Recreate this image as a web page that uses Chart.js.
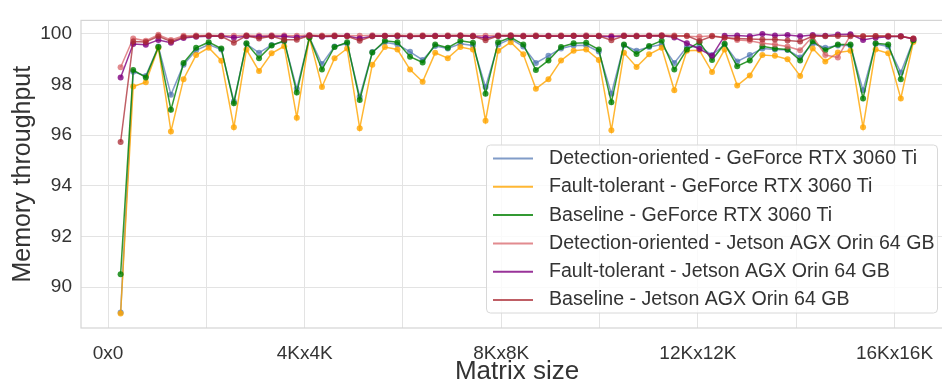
<!DOCTYPE html>
<html>
<head>
<meta charset="utf-8">
<script src="https://cdn.jsdelivr.net/npm/chart.js@4.4.1/dist/chart.umd.min.js"></script>
<style>
  html, body { margin: 0; padding: 0; background: #fff; overflow: hidden; }
  #wrap { position: absolute; left: 0; top: 0; width: 956px; height: 383px; }
</style>
</head>
<body>
<div id="wrap"><canvas id="chart" width="956" height="383"></canvas></div>
<script>
// matrix side length N (N x N)
const sizes = [256, 512, 768, 1024, 1280, 1536, 1792, 2048, 2304, 2560, 2816, 3072, 3328, 3584, 3840, 4096,
  4352, 4608, 4864, 5120, 5376, 5632, 5888, 6144, 6400, 6656, 6912, 7168, 7424, 7680, 7936, 8192,
  8448, 8704, 8960, 9216, 9472, 9728, 9984, 10240, 10496, 10752, 11008, 11264, 11520, 11776, 12032, 12288,
  12544, 12800, 13056, 13312, 13568, 13824, 14080, 14336, 14592, 14848, 15104, 15360, 15616, 15872, 16128, 16384];

const detectionGeforce = [89.00, 98.50, 98.34, 99.50, 97.60, 98.78, 99.35, 99.58, 99.38, 97.33, 99.60, 99.25, 99.56, 99.70, 97.83, 99.86,
  98.81, 99.50, 99.62, 97.52, 99.28, 99.67, 99.58, 99.29, 98.97, 99.52, 99.42, 99.61, 99.54, 97.90, 99.58, 99.80,
  99.50, 98.85, 99.13, 99.42, 99.54, 99.55, 99.30, 97.64, 99.55, 99.33, 99.48, 99.58, 98.85, 99.48, 99.50, 99.16,
  99.58, 98.91, 99.16, 99.42, 99.38, 99.36, 99.07, 99.62, 99.45, 99.54, 99.54, 97.77, 99.60, 99.50, 98.47, 99.75];

const faultGeforce = [88.96, 97.92, 98.09, 99.45, 96.15, 98.21, 99.16, 99.45, 98.94, 96.31, 99.38, 98.53, 99.23, 99.51, 96.69, 99.86,
  97.90, 99.04, 99.42, 96.27, 98.78, 99.48, 99.38, 98.59, 98.11, 99.25, 99.04, 99.48, 99.38, 96.57, 99.33, 99.67,
  99.19, 97.83, 98.21, 98.95, 99.33, 99.38, 98.97, 96.19, 99.25, 98.69, 99.19, 99.45, 97.77, 99.33, 99.35, 98.49,
  99.38, 97.96, 98.36, 99.16, 99.13, 99.00, 98.34, 99.42, 98.91, 99.26, 99.33, 96.31, 99.38, 99.23, 97.45, 99.68];

const baselineGeforce = [90.51, 98.57, 98.28, 99.48, 97.00, 98.85, 99.45, 99.67, 99.42, 97.26, 99.63, 99.04, 99.54, 99.73, 97.68, 99.86,
  98.59, 99.48, 99.67, 97.39, 99.26, 99.73, 99.67, 99.10, 98.87, 99.58, 99.45, 99.73, 99.65, 97.64, 99.67, 99.86,
  99.58, 98.57, 98.95, 99.48, 99.63, 99.65, 99.38, 97.30, 99.58, 99.20, 99.52, 99.73, 98.59, 99.38, 99.67, 98.97,
  99.61, 98.72, 98.95, 99.51, 99.42, 99.38, 98.95, 99.71, 99.35, 99.58, 99.58, 97.45, 99.63, 99.58, 98.21, 99.75];

const detectionJetson = [98.68, 99.82, 99.73, 99.96, 99.76, 99.92, 99.93, 99.94, 99.93, 99.92, 99.94, 99.93, 99.94, 99.93, 99.92, 99.95,
  99.93, 99.94, 99.93, 99.92, 99.94, 99.93, 99.94, 99.93, 99.94, 99.93, 99.94, 99.95, 99.93, 99.92, 99.94, 99.95,
  99.93, 99.94, 99.93, 99.94, 99.93, 99.94, 99.93, 99.92, 99.94, 99.93, 99.94, 99.95, 99.93, 99.90, 99.88, 99.92,
  99.86, 99.76, 99.73, 99.63, 99.58, 99.50, 99.35, 99.90, 99.16, 99.07, 99.95, 99.90, 99.91, 99.92, 99.90, 99.82];

const faultJetson = [98.28, 99.60, 99.57, 99.76, 99.65, 99.84, 99.88, 99.90, 99.91, 99.85, 99.90, 99.88, 99.90, 99.89, 99.86, 99.92,
  99.88, 99.90, 99.91, 99.82, 99.90, 99.91, 99.90, 99.89, 99.90, 99.91, 99.90, 99.92, 99.90, 99.84, 99.91, 99.92,
  99.90, 99.90, 99.91, 99.90, 99.91, 99.90, 99.90, 99.88, 99.91, 99.90, 99.91, 99.92, 99.86, 99.63, 99.40, 99.13,
  99.92, 99.93, 99.90, 99.99, 99.93, 99.95, 99.90, 99.95, 99.92, 99.97, 99.98, 99.76, 99.85, 99.88, 99.90, 99.80];

const baselineJetson = [95.73, 99.70, 99.68, 99.90, 99.70, 99.87, 99.90, 99.92, 99.90, 99.65, 99.92, 99.82, 99.90, 99.77, 99.77, 99.93,
  99.90, 99.91, 99.90, 99.73, 99.90, 99.91, 99.92, 99.90, 99.91, 99.90, 99.91, 99.92, 99.90, 99.75, 99.91, 99.92,
  99.90, 99.91, 99.90, 99.91, 99.92, 99.90, 99.91, 99.75, 99.91, 99.90, 99.91, 99.92, 99.90, 99.92, 99.72, 99.90,
  99.85, 99.82, 99.80, 99.78, 99.78, 99.74, 99.70, 99.90, 99.90, 99.91, 99.90, 99.90, 99.91, 99.90, 99.89, 99.82];

const seriesNames = [
  'Detection-oriented - GeForce RTX 3060 Ti',
  'Fault-tolerant - GeForce RTX 3060 Ti',
  'Baseline - GeForce RTX 3060 Ti',
  'Detection-oriented - Jetson AGX Orin 64 GB',
  'Fault-tolerant - Jetson AGX Orin 64 GB',
  'Baseline - Jetson AGX Orin 64 GB'
];
const seriesValues = [detectionGeforce, faultGeforce, baselineGeforce, detectionJetson, faultJetson, baselineJetson];
const seriesColors = [
  'rgba(76,114,176,0.7)',
  'rgba(255,165,0,0.8)',
  'rgba(0,128,0,0.8)',
  'rgba(214,90,96,0.7)',
  'rgba(128,0,128,0.8)',
  'rgba(170,40,50,0.75)'
];

const xGridValues = [0, 2000, 4000, 6000, 8000, 10000, 12000, 14000, 16000];
const xTickLabels = { 0: '0x0', 4000: '4Kx4K', 8000: '8Kx8K', 12000: '12Kx12K', 16000: '16Kx16K' };
const yTickValues = [90, 92, 94, 96, 98, 100];

const FONT = '"Liberation Sans", Arial, sans-serif';
const TEXT = '#333333';

const datasets = seriesValues.map((vals, k) => ({
  label: seriesNames[k],
  data: sizes.map((n, i) => ({ x: n, y: vals[i] })),
  borderColor: seriesColors[k],
  backgroundColor: seriesColors[k],
  borderWidth: 1.5,
  pointRadius: 3,
  pointHoverRadius: 3,
  pointBorderWidth: 0,
  tension: 0,
  order: 6 - k   // later series on top, like the original plot
}));

// frame round the plot area + legend box inside it
const framePlugin = {
  id: 'frame',
  beforeDatasetsDraw(chart) {
    const { ctx, chartArea: a } = chart;
    ctx.save();
    ctx.strokeStyle = '#d4d4d4';
    ctx.lineWidth = 1.2;
    ctx.strokeRect(a.left, a.top, a.right - a.left, a.bottom - a.top);
    ctx.restore();
  },
  afterDraw(chart) {
    const { ctx } = chart;
    const bx = 486.5, by = 145, bw = 451, bh = 168;
    ctx.save();
    ctx.beginPath();
    ctx.roundRect(bx, by, bw, bh, 4);
    ctx.fillStyle = 'rgba(255,255,255,0.8)';
    ctx.fill();
    ctx.strokeStyle = '#d8d8d8';
    ctx.lineWidth = 1;
    ctx.stroke();
    ctx.font = '19.6px ' + FONT;
    ctx.textBaseline = 'middle';
    ctx.textAlign = 'left';
    seriesNames.forEach((name, k) => {
      const y = 158.5 + k * 28.3;
      ctx.strokeStyle = seriesColors[k];
      ctx.lineWidth = 2;
      ctx.beginPath();
      ctx.moveTo(493, y);
      ctx.lineTo(533, y);
      ctx.stroke();
      ctx.fillStyle = TEXT;
      ctx.fillText(name, 549, y);
    });
    ctx.restore();
  }
};

new Chart(document.getElementById('chart').getContext('2d'), {
  type: 'line',
  data: { datasets },
  options: {
    responsive: false,
    animation: false,
    layout: { padding: { top: 9, right: 2, left: 0, bottom: 0 } },
    plugins: {
      legend: { display: false },
      tooltip: { enabled: false }
    },
    scales: {
      x: {
        type: 'linear',
        min: -550,
        max: 17190,
        afterBuildTicks(scale) { scale.ticks = xGridValues.map(v => ({ value: v })); },
        afterFit(scale) { scale.height = 55; },
        grid: { color: '#e3e3e3', lineWidth: 1, drawTicks: false },
        border: { display: false },
        ticks: {
          padding: 14,
          maxRotation: 0,
          autoSkip: false,
          color: TEXT,
          font: { family: FONT, size: 19 },
          callback: v => xTickLabels[v] !== undefined ? xTickLabels[v] : ''
        },
        title: {
          display: true,
          text: 'Matrix size',
          color: TEXT,
          font: { family: FONT, size: 26, lineHeight: 0.85 },
          padding: 0
        }
      },
      y: {
        min: 88.39,
        max: 100.53,
        afterBuildTicks(scale) { scale.ticks = yTickValues.map(v => ({ value: v })); },
        afterFit(scale) { scale.width = 81; },
        grid: { color: '#e3e3e3', lineWidth: 1, drawTicks: false },
        border: { display: false },
        ticks: {
          padding: 9,
          color: TEXT,
          font: { family: FONT, size: 19 }
        },
        title: {
          display: true,
          text: 'Memory throughput',
          color: TEXT,
          font: { family: FONT, size: 25, lineHeight: 1.2 },
          padding: { top: 8, bottom: 0 }
        }
      }
    }
  },
  plugins: [framePlugin]
});
</script>
</body>
</html>
